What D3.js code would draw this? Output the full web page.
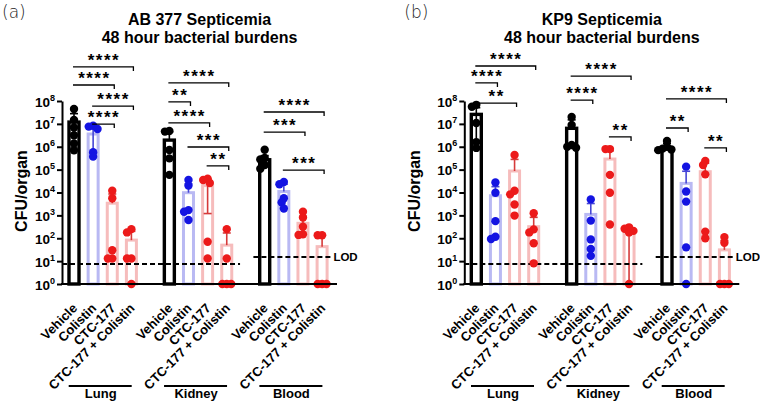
<!DOCTYPE html>
<html>
<head>
<meta charset="utf-8">
<script src="https://cdn.jsdelivr.net/npm/d3@7"></script>
<style>
  body { margin: 0; background: #fff; }
  svg text { font-family: "Liberation Sans", Arial, sans-serif; }
</style>
</head>
<body>
<svg></svg>
<script>
var width = 760;
var height = 404;

var tissues = ["Lung", "Kidney", "Blood"];
var treatments = ["Vehicle", "Colistin", "CTC-177", "CTC-177 + Colistin"];
var yTicks = [1e0, 1e1, 1e2, 1e3, 1e4, 1e5, 1e6, 1e7, 1e8];

// (a) AB 377 -- order: Lung (V, C, T, T+C), Kidney (...), Blood (...)
var abDots = [
  [4.5e7, 1.5e7, 7e6, 3.2e6, 1.4e6, 7e5],
  [8.3e6, 7.6e6, 6e6, 5.8e5, 3.7e5],
  [1.2e4, 5.6e3, 30, 13, 13],
  [250, 180, 13, 13, 0],
  [4.9e6, 4.6e6, 7.2e5, 3.1e5, 5.9e4],
  [3.5e4, 2e4, 1.7e3, 1.45e3, 630],
  [4e4, 3.5e4, 2.6e4, 70, 13],
  [250, 13, 0, 0, 0],
  [7.4e5, 3.2e5, 2.8e5, 1.6e5, 1.1e5],
  [2.9e4, 2.3e4, 5.6e3, 3.7e3, 2e3],
  [1450, 800, 320, 150, 140],
  [135, 135, 0, 0, 0]
];
var abMeans = [1.2e7, 3.6e6, 3.4e3, 83, 1.95e6, 9.8e3, 2e4, 50, 2.7e5, 1.1e4, 450, 43];
var abUpper = [2.8e7, 6.7e6, 8.6e3, 200, 4.5e6, 2.4e4, 3.9e4, 170, 4.1e5, 2.3e4, 900, 140];
var abLower = [null, 5.1e5, null, null, null, null, 1.2e3, null, 1.35e5, null, null, null];
var abLOD = [7.5, 15];
// [tissue, from, to, label, log10 height]
var abBrackets = [
  [0, 0, 3, "****", 9.49],
  [0, 0, 2, "****", 8.70],
  [0, 1, 3, "****", 7.78],
  [0, 1, 2, "****", 6.99],
  [1, 0, 3, "****", 8.79],
  [1, 0, 1, "**", 7.96],
  [1, 0, 2, "****", 7.04],
  [1, 1, 3, "***", 5.99],
  [1, 2, 3, "**", 5.16],
  [2, 0, 3, "****", 7.52],
  [2, 0, 2, "***", 6.64],
  [2, 1, 3, "***", 4.98]
];

// (b) KP9
var kpDots = [
  [6.8e7, 5.6e7, 1.1e7, 1.6e6, 8.9e5],
  [2.75e4, 9.8e3, 560, 117, 93],
  [4.4e5, 1.2e4, 8.3e3, 3e3, 980],
  [1230, 245, 180, 60, 8],
  [2e7, 9e6, 1.2e6, 1e6, 9e5],
  [5e3, 590, 89, 34, 17],
  [7.9e5, 7.9e5, 5.9e4, 9.8e3, 400],
  [300, 260, 210, 180, 0],
  [1.8e6, 1e6, 8.3e5, 7.6e5, 7.1e5],
  [1.35e5, 1.1e4, 4e3, 40, 0],
  [2.4e5, 1.6e5, 6.2e4, 195, 100],
  [112, 63, 0, 0, 0]
];
var kpMeans = [2.6e7, 7.2e3, 8.7e4, 320, 6.4e6, 1.1e3, 2.9e5, 195, 9e5, 2.5e4, 8.1e4, 31];
var kpUpper = [5.1e7, 1.8e4, 2.8e5, 820, 1.5e7, 3.3e3, 6.6e5, 290, 1.4e6, 8.5e4, 1.9e5, 80];
var kpLower = [1.5e6, null, null, null, null, null, null, 0, null, null, null, null];
var kpLOD = [7.5, 15];
var kpBrackets = [
  [0, 0, 3, "****", 9.53],
  [0, 0, 1, "****", 8.79],
  [0, 0, 2, "**", 7.91],
  [1, 0, 3, "****", 9.09],
  [1, 0, 1, "****", 8.04],
  [1, 2, 3, "**", 6.43],
  [2, 0, 3, "****", 8.09],
  [2, 0, 1, "**", 6.82],
  [2, 2, 3, "**", 5.95]
];

// styles by treatment
var barStroke = ["#000000", "#b9b9f3", "#f6bcbc", "#f6bcbc"];
var dotFill = ["#000000", "#1414e2", "#ec1a1a", "#ec1a1a"];
var errColor = ["#000000", "#4646d6", "#d63a3a", "#d63a3a"];

var svg = d3.select("svg")
            .attr("width", width)
            .attr("height", height);

var y = d3.scaleLog().domain([1, 1e8]).range([284, 101]);
function yv(v) { return v > 0 ? y(v) : y(1); }

var x0 = d3.scalePoint().domain(tissues).range([102.7, 293.4]);
var x1 = d3.scalePoint().domain(treatments).range([-28.7, 28.7]);
function cx(i) { return x0(tissues[Math.floor(i / 4)]) + x1(treatments[i % 4]); }

// spread overlapping dots sideways
function swarm(ys) {
  var placed = [];
  var offs = new Array(ys.length);
  var order = ys.map(function(v, i) { return i; }).sort(function(a, b) { return ys[a] - ys[b]; });
  var cands = [0, -2.2, 2.2, -4.4, 4.4, -6.6, 6.6, -8.8, 8.8];
  order.forEach(function(i) {
    for (var k = 0; k < cands.length; k++) {
      var ok = placed.every(function(p) { return Math.hypot(p.x - cands[k], p.y - ys[i]) >= 4.4; });
      if (ok || k == cands.length - 1) {
        offs[i] = cands[k];
        placed.push({ x: cands[k], y: ys[i] });
        break;
      }
    }
  });
  return offs;
}

function drawPanel(p) {

  var g = svg.append("g").attr("transform", "translate(" + p.dx + ",0)");
  var axisX = 62, axisEnd = 337;

  // titles
  g.append("text").attr("x", 2).attr("y", 18)
   .attr("font-size", 17).attr("font-weight", 300)
   .style("font-family", "'DejaVu Sans', sans-serif")
   .attr("fill", "#222").text(p.letter);

  g.append("text").attr("x", 199.5).attr("y", 25)
   .attr("text-anchor", "middle").attr("font-size", 16).attr("font-weight", "bold")
   .text(p.title);
  g.append("text").attr("x", 199.5).attr("y", 43)
   .attr("text-anchor", "middle").attr("font-size", 16).attr("font-weight", "bold")
   .text("48 hour bacterial burdens");

  // y label
  g.append("text")
   .attr("transform", "translate(" + p.ylabX + ",191) rotate(-90)")
   .attr("text-anchor", "middle").attr("font-size", 16).attr("font-weight", "bold")
   .text("CFU/organ");

  // bars
  g.selectAll("rect.bar")
   .data(p.means)
   .enter()
   .append("rect")
   .attr("class", "bar")
   .attr("x", function(d, i) { return cx(i) - 5; })
   .attr("y", function(d) { return y(d); })
   .attr("width", 10)
   .attr("height", function(d) { return y(1) - y(d); })
   .attr("fill", "#fff")
   .attr("stroke", function(d, i) { return barStroke[i % 4]; })
   .attr("stroke-width", function(d, i) { return i % 4 == 0 ? 3.4 : 3; });

  // error bars
  p.means.forEach(function(m, i) {
    var col = errColor[i % 4];
    var top = y(p.upper[i]);
    var lo = p.lower[i];
    var bot = lo === null ? y(m) : yv(lo);
    g.append("line").attr("x1", cx(i)).attr("x2", cx(i))
     .attr("y1", top).attr("y2", bot)
     .attr("stroke", col).attr("stroke-width", 1.6);
    g.append("line").attr("x1", cx(i) - 4).attr("x2", cx(i) + 4)
     .attr("y1", top).attr("y2", top)
     .attr("stroke", col).attr("stroke-width", 1.6);
    if (lo !== null && lo > 0) {
      g.append("line").attr("x1", cx(i) - 4).attr("x2", cx(i) + 4)
       .attr("y1", bot).attr("y2", bot)
       .attr("stroke", col).attr("stroke-width", 1.6);
    }
  });

  // LOD
  g.append("line")
   .attr("x1", axisX).attr("x2", x0("Kidney") + 42)
   .attr("y1", y(p.lod[0])).attr("y2", y(p.lod[0]))
   .attr("stroke", "#000").attr("stroke-width", 2).attr("stroke-dasharray", "5,3");
  g.append("line")
   .attr("x1", x0("Blood") - 40).attr("x2", x0("Blood") + 37)
   .attr("y1", y(p.lod[1])).attr("y2", y(p.lod[1]))
   .attr("stroke", "#000").attr("stroke-width", 2).attr("stroke-dasharray", "5,3");
  g.append("text")
   .attr("x", x0("Blood") + 40).attr("y", y(p.lod[1]) + 4)
   .attr("font-size", 11.5).attr("font-weight", "bold")
   .text("LOD");

  // dots
  p.dots.forEach(function(vals, i) {
    var ys = vals.map(yv);
    var offs = swarm(ys);
    g.selectAll(null)
     .data(vals)
     .enter()
     .append("circle")
     .attr("cx", function(d, k) { return cx(i) + offs[k]; })
     .attr("cy", function(d, k) { return ys[k]; })
     .attr("r", 4.2)
     .attr("fill", dotFill[i % 4]);
  });

  // axes
  var yAxis = d3.axisLeft(y)
                .tickValues(yTicks)
                .tickSize(5)
                .tickSizeOuter(0)
                .tickFormat("");
  var ya = g.append("g")
            .attr("transform", "translate(" + axisX + ",0)")
            .call(yAxis);
  ya.selectAll("path, line").attr("stroke", "#000").attr("stroke-width", 2);
  ya.selectAll(".tick").each(function(d) {
    var t = d3.select(this).select("text")
              .attr("x", -7).attr("dy", null).attr("y", 5)
              .attr("fill", "#000").attr("font-weight", "bold").attr("font-size", 13.5)
              .style("font-family", "'Liberation Sans', Arial, sans-serif");
    t.text("");
    t.append("tspan").text("10");
    t.append("tspan").attr("dy", -6).attr("font-size", 9).text(Math.round(Math.log10(d)));
  });

  g.append("line")
   .attr("x1", axisX - 1).attr("x2", axisEnd)
   .attr("y1", y(1)).attr("y2", y(1))
   .attr("stroke", "#000").attr("stroke-width", 2);

  // brackets
  p.brackets.forEach(function(b) {
    var ly = y(Math.pow(10, b[4]));
    var xa = cx(b[0] * 4 + b[1]) - 1;
    var xb = cx(b[0] * 4 + b[2]) + 2;
    g.append("path")
     .attr("d", "M" + xa + "," + ly + "H" + xb + "V" + (ly + 4))
     .attr("fill", "none").attr("stroke", "#000").attr("stroke-width", 1.3);
    g.append("text")
     .attr("x", (xa + xb) / 2 + 0.75).attr("y", ly - 1)
     .attr("text-anchor", "middle").attr("font-size", 17).attr("font-weight", "bold")
     .attr("letter-spacing", 1.5)
     .text(b[3]);
  });

  // x labels
  g.selectAll("text.xl")
   .data(d3.range(12))
   .enter()
   .append("text")
   .attr("class", "xl")
   .attr("transform", function(i) { return "translate(" + (cx(i) + 4) + ",309) rotate(-45)"; })
   .attr("text-anchor", "end").attr("font-size", 13).attr("font-weight", "bold")
   .text(function(i) { return treatments[i % 4]; });

  // tissue groups
  tissues.forEach(function(t) {
    g.append("line")
     .attr("x1", x0(t) - 34).attr("x2", x0(t) + 29)
     .attr("y1", 386).attr("y2", 386)
     .attr("stroke", "#000").attr("stroke-width", 2);
    g.append("text")
     .attr("x", x0(t) - 2).attr("y", 398)
     .attr("text-anchor", "middle").attr("font-size", 13).attr("font-weight", "bold")
     .text(t);
  });
}

drawPanel({ dx: 0, letter: "(a)", title: "AB 377 Septicemia", ylabX: 26.5,
            dots: abDots, means: abMeans, upper: abUpper, lower: abLower,
            lod: abLOD, brackets: abBrackets });
drawPanel({ dx: 402.3, letter: "(b)", title: "KP9 Septicemia", ylabX: 17.5,
            dots: kpDots, means: kpMeans, upper: kpUpper, lower: kpLower,
            lod: kpLOD, brackets: kpBrackets });
</script>
</body>
</html>
